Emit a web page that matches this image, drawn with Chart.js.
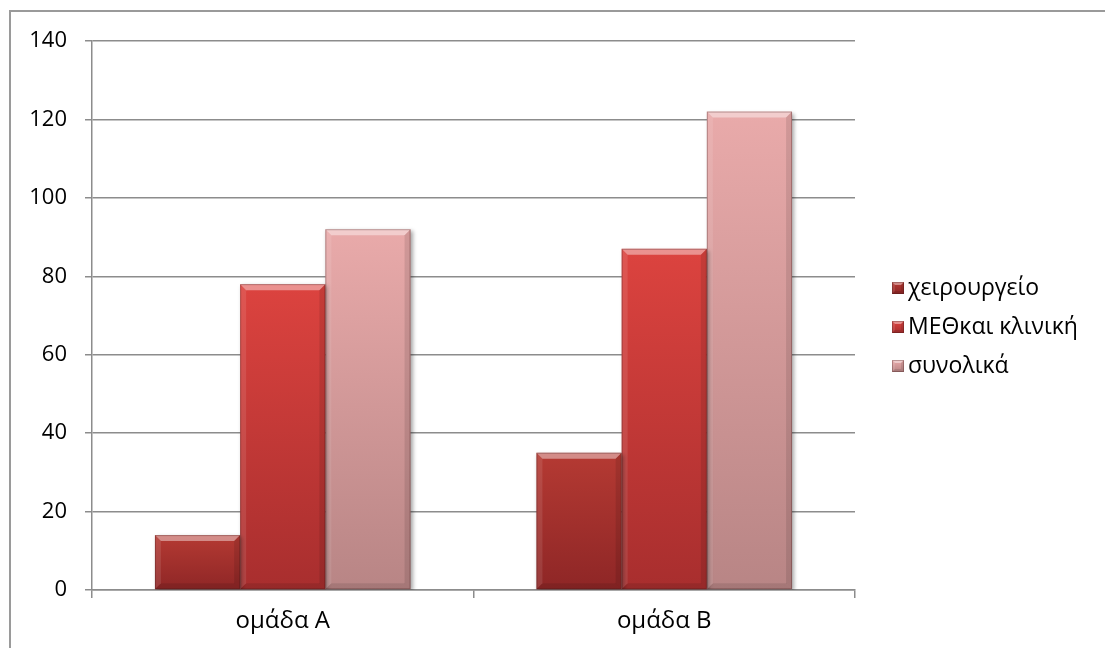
<!DOCTYPE html>
<html>
<head>
<meta charset="utf-8">
<title>ομάδα Α / ομάδα Β</title>
<script src="https://cdn.jsdelivr.net/npm/chart.js@4.4.1/dist/chart.umd.min.js"></script>
<style>
  html, body { margin: 0; padding: 0; background: #fff; }
  #wrap { width: 1105px; height: 648px; }
</style>
</head>
<body>
<div id="wrap"><canvas id="groupChart" width="1105" height="648"></canvas></div>
<script>
// categories and series
const groups = ['ομάδα Α', 'ομάδα Β'];
const seriesNames = ['χειρουργείο', 'ΜΕΘκαι κλινική', 'συνολικά'];
const surgery = [14, 35];
const icuWard = [78, 87];
const total = [92, 122];
const yMax = 140;
const yStep = 20;

// top / bottom colour of each series
const topColors = ['#b53a33', '#dc433f', '#e9aaaa'];
const bottomColors = ['#8e2626', '#a82e2e', '#b88585'];

const FONT = '"Open Sans", "Liberation Sans", sans-serif';

function barGradient(i) {
    return function (context) {
        const chart = context.chart;
        const y = chart.scales && chart.scales.y;
        if (!y || context.raw === undefined) return topColors[i];
        const top = y.getPixelForValue(context.raw);
        const bottom = y.getPixelForValue(0);
        if (!isFinite(top) || !isFinite(bottom) || top === bottom) return topColors[i];
        const g = chart.ctx.createLinearGradient(0, top, 0, bottom);
        g.addColorStop(0, topColors[i]);
        g.addColorStop(1, bottomColors[i]);
        return g;
    };
}

// white page with the grey frame on top and left
const framePlugin = {
    id: 'frame',
    beforeDraw(chart) {
        const ctx = chart.ctx;
        ctx.save();
        ctx.fillStyle = '#fff';
        ctx.fillRect(0, 0, chart.width, chart.height);
        ctx.strokeStyle = '#9a9a9a';
        ctx.lineWidth = 2;
        ctx.beginPath();
        ctx.moveTo(chart.width, 11);
        ctx.lineTo(10, 11);
        ctx.lineTo(10, chart.height);
        ctx.stroke();
        ctx.restore();
    }
};

function bevel(ctx, l, t, r, b, s) {
    s = Math.min(s, (r - l) / 2, (b - t) / 2);
    const faces = [
        [[l, t], [r, t], [r - s, t + s], [l + s, t + s], 'rgba(255,255,255,0.42)'],
        [[l, t], [l + s, t + s], [l + s, b - s], [l, b], 'rgba(255,255,255,0.10)'],
        [[r, t], [r, b], [r - s, b - s], [r - s, t + s], 'rgba(0,0,0,0.10)'],
        [[l, b], [l + s, b - s], [r - s, b - s], [r, b], 'rgba(0,0,0,0.10)']
    ];
    faces.forEach(f => {
        ctx.beginPath();
        ctx.moveTo(f[0][0], f[0][1]);
        for (let k = 1; k < 4; k++) ctx.lineTo(f[k][0], f[k][1]);
        ctx.closePath();
        ctx.fillStyle = f[4];
        ctx.fill();
    });
    ctx.strokeStyle = 'rgba(60,20,20,0.30)';
    ctx.lineWidth = 1;
    ctx.strokeRect(l + 0.5, t + 0.5, r - l - 1, b - t - 1);
}

// soft shadow under the bars, then the bevelled edges on top
const bevelPlugin = {
    id: 'bevel',
    beforeDatasetDraw(chart) {
        const ctx = chart.ctx;
        ctx.save();
        ctx.shadowColor = 'rgba(0,0,0,0.35)';
        ctx.shadowBlur = 4;
        ctx.shadowOffsetX = 2;
        ctx.shadowOffsetY = 2;
    },
    afterDatasetDraw(chart) {
        chart.ctx.restore();
    },
    afterDatasetsDraw(chart) {
        const ctx = chart.ctx;
        ctx.save();
        chart.data.datasets.forEach((ds, i) => {
            chart.getDatasetMeta(i).data.forEach(bar => {
                const l = bar.x - bar.width / 2;
                const r = bar.x + bar.width / 2;
                bevel(ctx, l, bar.y, r, bar.base, 6);
            });
        });
        ctx.restore();
    }
};

// legend on the right
const legendPlugin = {
    id: 'sideLegend',
    afterDraw(chart) {
        const ctx = chart.ctx;
        ctx.save();
        ctx.font = '23px ' + FONT;
        ctx.textBaseline = 'middle';
        ctx.textAlign = 'left';
        chart.data.datasets.forEach((ds, i) => {
            const cy = 288 + i * 39;
            const x = 892, s = 12;
            const g = ctx.createLinearGradient(0, cy - s / 2, 0, cy + s / 2);
            g.addColorStop(0, topColors[i]);
            g.addColorStop(1, bottomColors[i]);
            ctx.fillStyle = g;
            ctx.fillRect(x, cy - s / 2, s, s);
            bevel(ctx, x, cy - s / 2, x + s, cy + s / 2, 3);
            ctx.fillStyle = '#000';
            ctx.fillText(ds.label, 908, cy);
        });
        ctx.restore();
    }
};

const seriesValues = [surgery, icuWard, total];

new Chart(document.getElementById('groupChart').getContext('2d'), {
    type: 'bar',
    data: {
        labels: groups,
        datasets: seriesNames.map((name, i) => ({
            label: name,
            data: seriesValues[i],
            backgroundColor: barGradient(i),
            borderWidth: 0,
            categoryPercentage: 0.67,
            barPercentage: 1.0
        }))
    },
    options: {
        responsive: false,
        animation: false,
        events: [],
        layout: {
            padding: { top: 41, right: 250, left: 0, bottom: 0 }
        },
        plugins: {
            legend: { display: false },
            tooltip: { enabled: false }
        },
        scales: {
            x: {
                grid: {
                    display: true,
                    offset: true,
                    drawOnChartArea: false,
                    drawTicks: true,
                    tickLength: 8,
                    color: '#8c8c8c',
                    lineWidth: 1.5
                },
                border: { display: true, color: '#8c8c8c', width: 1.5 },
                ticks: {
                    color: '#000',
                    font: { size: 24, family: FONT },
                    padding: 9
                },
                afterFit(scale) { scale.height = 58; }
            },
            y: {
                min: 0,
                max: yMax,
                ticks: {
                    stepSize: yStep,
                    color: '#000',
                    font: { size: 22, family: FONT },
                    padding: 18
                },
                grid: {
                    color: '#8c8c8c',
                    lineWidth: 1.5,
                    tickLength: 7
                },
                border: { display: true, color: '#8c8c8c', width: 1.5 },
                afterFit(scale) { scale.width = 92; }
            }
        }
    },
    plugins: [framePlugin, bevelPlugin, legendPlugin]
});
</script>
</body>
</html>
